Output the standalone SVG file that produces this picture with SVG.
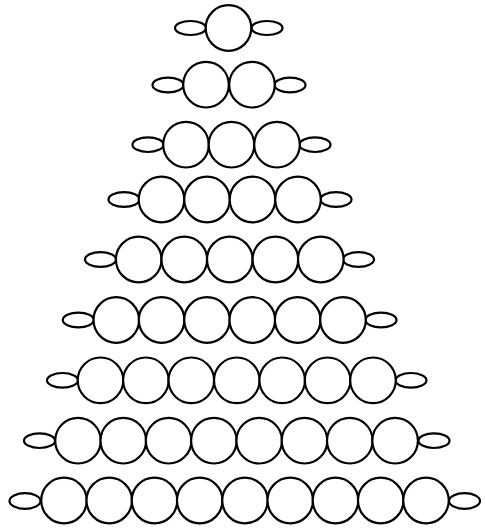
<svg xmlns="http://www.w3.org/2000/svg" width="485" height="531" viewBox="0 0 485 531">
<style>
.b{fill:#fff;stroke:#000;stroke-width:2.2}
.o{fill:#fff;stroke:#000;stroke-width:2.2}
</style>
<rect width="485" height="531" fill="#fff"/>
<g id="row1">
<ellipse class="o" cx="190.5" cy="28" rx="15.5" ry="7"/><ellipse class="o" cx="267" cy="28" rx="15.5" ry="7"/>
<circle class="b" cx="228.5" cy="28" r="22.8"/>
</g>
<g id="row2">
<ellipse class="o" cx="168" cy="85" rx="15.5" ry="7.3"/><ellipse class="o" cx="290" cy="85" rx="15.5" ry="7.3"/>
<circle class="b" cx="206" cy="84.7" r="22.8"/><circle class="b" cx="252" cy="84.7" r="22.8"/>
</g>
<g id="row3">
<ellipse class="o" cx="148" cy="144.7" rx="15.5" ry="7.3"/><ellipse class="o" cx="315" cy="144.7" rx="15.5" ry="7.3"/>
<circle class="b" cx="186" cy="144.7" r="22.8"/><circle class="b" cx="231.5" cy="144.7" r="22.8"/><circle class="b" cx="277" cy="144.7" r="22.8"/>
</g>
<g id="row4">
<ellipse class="o" cx="124" cy="199.5" rx="15.5" ry="7.3"/><ellipse class="o" cx="336" cy="199.5" rx="15.5" ry="7.3"/>
<circle class="b" cx="161.5" cy="199.5" r="22.8"/><circle class="b" cx="207" cy="199.5" r="22.8"/><circle class="b" cx="252.5" cy="199.5" r="22.8"/><circle class="b" cx="298" cy="199.5" r="22.8"/>
</g>
<g id="row5">
<ellipse class="o" cx="100.5" cy="259.5" rx="15.5" ry="7.3"/><ellipse class="o" cx="358.5" cy="259.5" rx="15.5" ry="7.3"/>
<circle class="b" cx="138.7" cy="259.5" r="22.8"/><circle class="b" cx="184.3" cy="259.5" r="22.8"/><circle class="b" cx="229.8" cy="259.5" r="22.8"/><circle class="b" cx="275.4" cy="259.5" r="22.8"/><circle class="b" cx="320.8" cy="259.5" r="22.8"/>
</g>
<g id="row6">
<ellipse class="o" cx="78.3" cy="320" rx="15.5" ry="7.3"/><ellipse class="o" cx="381" cy="320" rx="15.5" ry="7.3"/>
<circle class="b" cx="116.3" cy="320" r="22.8"/><circle class="b" cx="161.6" cy="320" r="22.8"/><circle class="b" cx="207" cy="320" r="22.8"/><circle class="b" cx="252.3" cy="320" r="22.8"/><circle class="b" cx="297.7" cy="320" r="22.8"/><circle class="b" cx="343" cy="320" r="22.8"/>
</g>
<g id="row7">
<ellipse class="o" cx="62.5" cy="380.3" rx="15.5" ry="7.3"/><ellipse class="o" cx="411" cy="380.3" rx="15.5" ry="7.3"/>
<circle class="b" cx="100.5" cy="380.3" r="22.8"/><circle class="b" cx="145.9" cy="380.3" r="22.8"/><circle class="b" cx="191.3" cy="380.3" r="22.8"/><circle class="b" cx="236.8" cy="380.3" r="22.8"/><circle class="b" cx="282.2" cy="380.3" r="22.8"/><circle class="b" cx="327.6" cy="380.3" r="22.8"/><circle class="b" cx="373" cy="380.3" r="22.8"/>
</g>
<g id="row8">
<ellipse class="o" cx="39.5" cy="440.7" rx="15.5" ry="7.3"/><ellipse class="o" cx="434" cy="440.7" rx="15.5" ry="7.3"/>
<circle class="b" cx="78" cy="440.7" r="22.8"/><circle class="b" cx="123.3" cy="440.7" r="22.8"/><circle class="b" cx="168.6" cy="440.7" r="22.8"/><circle class="b" cx="213.9" cy="440.7" r="22.8"/><circle class="b" cx="259.2" cy="440.7" r="22.8"/><circle class="b" cx="304.5" cy="440.7" r="22.8"/><circle class="b" cx="349.8" cy="440.7" r="22.8"/><circle class="b" cx="395.1" cy="440.7" r="22.8"/>
</g>
<g id="row9">
<ellipse class="o" cx="25" cy="501" rx="15.5" ry="7.8"/><ellipse class="o" cx="464.5" cy="501" rx="15.5" ry="7.8"/>
<circle class="b" cx="64" cy="500.5" r="22.8"/><circle class="b" cx="109.25" cy="500.5" r="22.8"/><circle class="b" cx="154.5" cy="500.5" r="22.8"/><circle class="b" cx="199.75" cy="500.5" r="22.8"/><circle class="b" cx="245" cy="500.5" r="22.8"/><circle class="b" cx="290.25" cy="500.5" r="22.8"/><circle class="b" cx="335.5" cy="500.5" r="22.8"/><circle class="b" cx="380.75" cy="500.5" r="22.8"/><circle class="b" cx="426" cy="500.5" r="22.8"/>
</g>
</svg>
